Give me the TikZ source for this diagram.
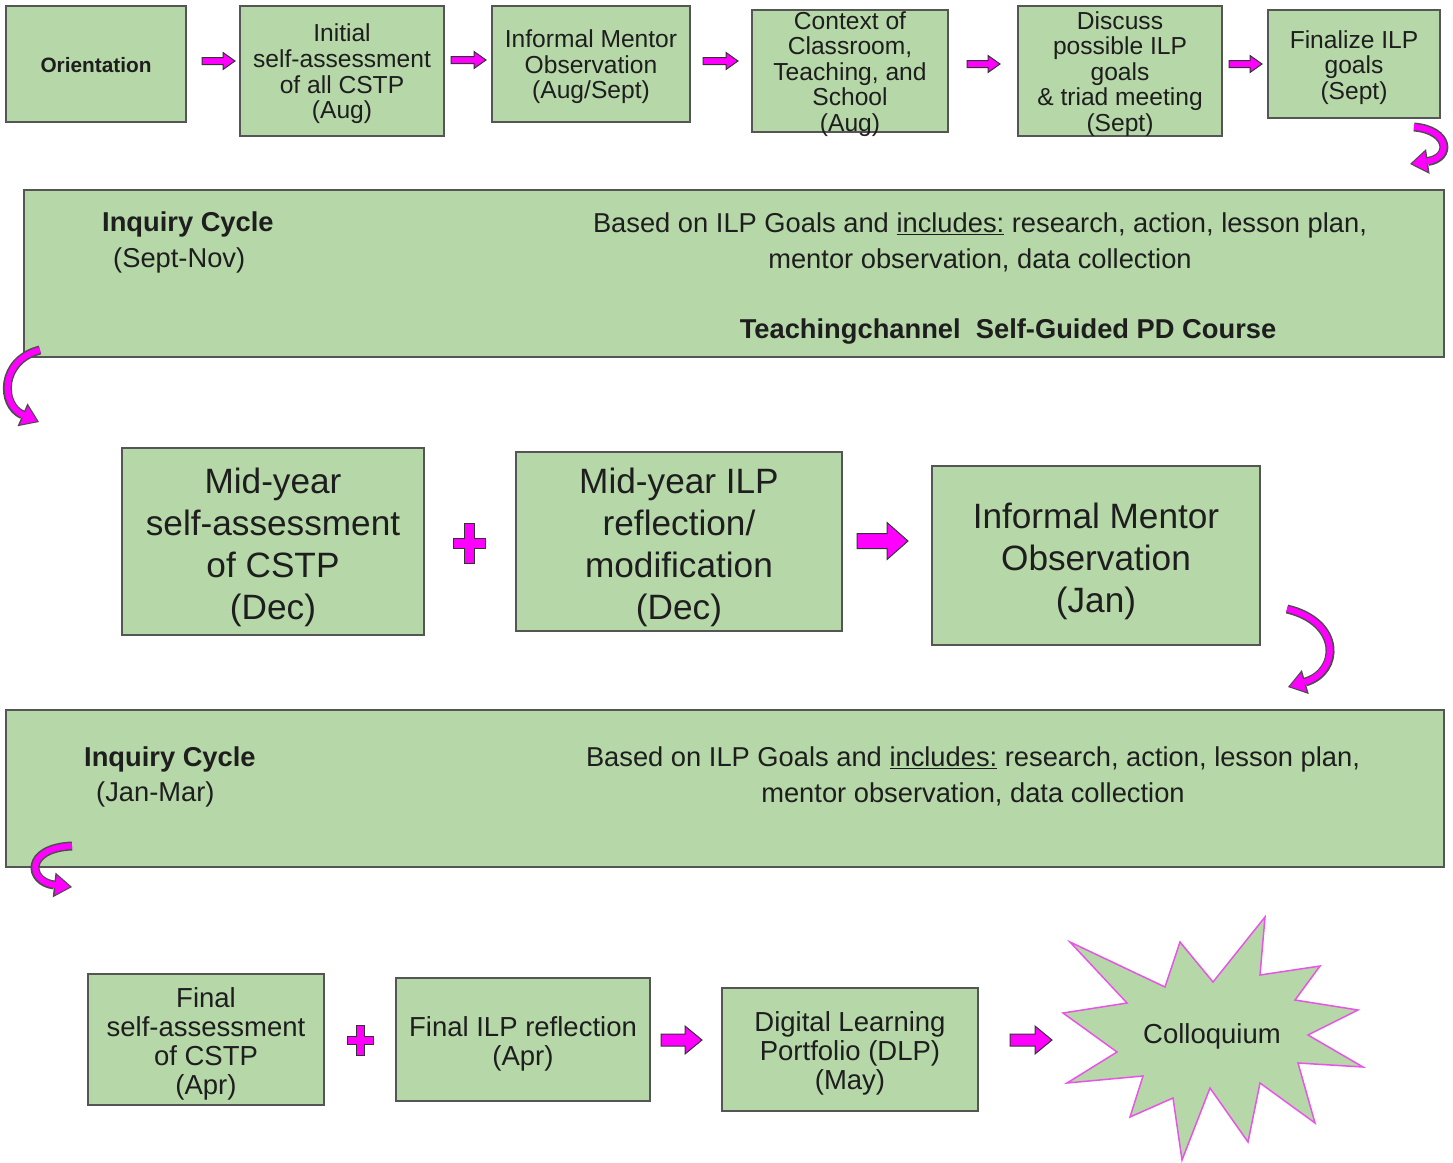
\documentclass[tikz,border=0pt]{standalone}
\usepackage{fontspec}
\setmainfont{Liberation Sans}
\usetikzlibrary{arrows.meta}
\definecolor{boxgreen}{HTML}{B6D7A8}
\definecolor{boxline}{HTML}{555555}
\definecolor{mag}{HTML}{FF00FF}
\definecolor{starline}{HTML}{E655E6}
\definecolor{txt}{HTML}{1E1E1E}
\newcommand\blockarr[6]{% x0 x1 yc shafthalf headhalf headlen
 \draw[barrow] (#1,{#3-#4}) -- ({#2-#6},{#3-#4}) -- ({#2-#6},{#3-#5}) -- (#2,#3) -- ({#2-#6},{#3+#5}) -- ({#2-#6},{#3+#4}) -- (#1,{#3+#4}) -- cycle;}
\newcommand\plussign[5]{% cx cy halfw halfh arm
 \draw[barrow] ({#1-#5},{#2-#4}) -- ({#1+#5},{#2-#4}) -- ({#1+#5},{#2-#5}) -- ({#1+#3},{#2-#5}) -- ({#1+#3},{#2+#5}) -- ({#1+#5},{#2+#5}) -- ({#1+#5},{#2+#4}) -- ({#1-#5},{#2+#4}) -- ({#1-#5},{#2+#5}) -- ({#1-#3},{#2+#5}) -- ({#1-#3},{#2-#5}) -- ({#1-#5},{#2-#5}) -- cycle;}
\tikzset{
 box/.style={draw=boxline, fill=boxgreen, line width=1.5pt, inner sep=0pt},
 boxtxt/.style={align=center, inner sep=0pt, text=txt},
 toptxt/.style={boxtxt, font=\fontsize{24.6}{25.6}\selectfont, yshift=-3pt},
 midtxt/.style={boxtxt, font=\fontsize{35.2}{42}\selectfont, yshift=-5.5pt},
 bottxt/.style={boxtxt, font=\fontsize{27.5}{29}\selectfont, yshift=-4pt},
 inqtxt/.style={font=\fontsize{27.3}{36}\selectfont, text=txt, inner sep=0pt, align=center},
 inqbold/.style={font=\fontsize{27.3}{36}\selectfont\bfseries, text=txt, inner sep=0pt},
 barrow/.style={fill=mag, draw=black!80, line width=1pt, line join=miter},
 curvout/.style={draw=black!70, line width=9pt, -{Triangle[length=18pt,width=25pt,line width=0pt]}},
 curvin/.style={draw=mag, line width=6pt, shorten >=2pt, -{Triangle[length=14.5pt,width=20pt,line width=0pt]}},
}
\begin{document}
\begin{tikzpicture}[x=1pt,y=-1pt]
\useasboundingbox (0,0) rectangle (1453,1162);
% top row
\node[box, minimum width=180, minimum height=116] (orient) at (96,64) {};
\node[boxtxt, font=\fontsize{20.8}{24}\selectfont\bfseries, yshift=-1pt] (orient-t) at (orient.center) {Orientation};
\node[box, minimum width=204, minimum height=130] (init) at (342,71) {};
\node[toptxt] (init-t) at (init.center) {Initial\\self-assessment\\of all CSTP\\(Aug)};
\node[box, minimum width=198, minimum height=116] (infm) at (591,64) {};
\node[toptxt] (infm-t) at (infm.center) {Informal Mentor\\Observation\\(Aug/Sept)};
\node[box, minimum width=196, minimum height=122] (ctx) at (850,71) {};
\node[toptxt] (ctx-t) at (ctx.center) {Context of\\Classroom,\\Teaching, and\\School\\(Aug)};
\node[box, minimum width=204, minimum height=130] (disc) at (1120,71) {};
\node[toptxt] (disc-t) at (disc.center) {Discuss\\possible ILP\\goals\\\& triad meeting\\(Sept)};
\node[box, minimum width=172, minimum height=108] (fin) at (1354,64) {};
\node[toptxt, yshift=-0.5pt] (fin-t) at (fin.center) {Finalize ILP\\goals\\(Sept)};
\blockarr{202}{235}{61}{3.5}{8.5}{12}
\blockarr{451}{486}{60}{3.5}{8.5}{12}
\blockarr{703}{738}{61}{3.5}{8.5}{12}
\blockarr{967}{1000}{64}{3.5}{8.5}{12}
\blockarr{1229}{1262}{64}{3.5}{8.5}{12}
% inquiry 1
\node[box, minimum width=1420, minimum height=167] (inq1) at (734,273.5) {};
\node[inqbold, anchor=west] (inq1t) at (102,224) {Inquiry Cycle};
\node[inqtxt, anchor=west] (inq1d) at (113,260) {(Sept-Nov)};
\node[inqtxt] (inq1r) at (980,242) {Based on ILP Goals and \underline{includes:} research, action, lesson plan,\\mentor observation, data collection};
\node[inqbold] (inq1pd) at (1008,331) {Teachingchannel\ \ Self-Guided PD Course};
% curved arrows
\coordinate (c1a) at (1414,127); \coordinate (c1b) at (1410,164);
\draw[curvout] (c1a) .. controls (1450,130) and (1452,158) .. (c1b);
\draw[curvin] (c1a) .. controls (1450,130) and (1452,158) .. (c1b);
\coordinate (c2a) at (40,350); \coordinate (c2b) at (39,422);
\draw[curvout] (c2a) .. controls (0,360) and (0,405) .. (c2b);
\draw[curvin] (c2a) .. controls (0,360) and (0,405) .. (c2b);
% mid row
\node[box, minimum width=302, minimum height=187] (mya) at (273,541.5) {};
\node[midtxt] (mya-t) at (mya.center) {Mid-year\\self-assessment\\of CSTP\\(Dec)};
\node[box, minimum width=326, minimum height=179] (myb) at (679,541.5) {};
\node[midtxt] (myb-t) at (myb.center) {Mid-year ILP\\reflection/\\modification\\(Dec)};
\node[box, minimum width=328, minimum height=179] (myc) at (1096,555.5) {};
\node[midtxt] (myc-t) at (myc.center) {Informal Mentor\\Observation\\(Jan)};
\plussign{469}{543}{16}{20}{5}
\blockarr{857}{908}{541}{7.5}{18.5}{21}
\coordinate (c3a) at (1287,609); \coordinate (c3b) at (1288,687);
\draw[curvout] (c3a) .. controls (1342,622) and (1340,672) .. (c3b);
\draw[curvin] (c3a) .. controls (1342,622) and (1340,672) .. (c3b);
% inquiry 2
\node[box, minimum width=1438, minimum height=157] (inq2) at (725,788.5) {};
\node[inqbold, anchor=west] (inq2t) at (84,759) {Inquiry Cycle};
\node[inqtxt, anchor=west] (inq2d) at (96,794) {(Jan-Mar)};
\node[inqtxt] (inq2r) at (973,776) {Based on ILP Goals and \underline{includes:} research, action, lesson plan,\\mentor observation, data collection};
\coordinate (c4a) at (72,846); \coordinate (c4b) at (72,887);
\draw[curvout] (c4a) .. controls (24,848) and (28,882) .. (c4b);
\draw[curvin] (c4a) .. controls (24,848) and (28,882) .. (c4b);
% bottom row
\node[box, minimum width=236, minimum height=131] (fsa) at (206,1039.5) {};
\node[bottxt] (fsa-t) at (fsa.center) {Final\\self-assessment\\of CSTP\\(Apr)};
\node[box, minimum width=254, minimum height=123] (filp) at (523,1039.5) {};
\node[bottxt] (filp-t) at (filp.center) {Final ILP reflection\\(Apr)};
\node[box, minimum width=256, minimum height=123] (dlp) at (850,1049.5) {};
\node[bottxt] (dlp-t) at (dlp.center) {Digital Learning\\Portfolio (DLP)\\(May)};
\plussign{360}{1040}{13}{15}{4}
\blockarr{661}{702}{1040}{6}{14}{17}
\blockarr{1010}{1052}{1040}{6}{14}{17}
% star
\draw[fill=boxgreen, draw=starline, line width=1.5pt, line join=miter]
 (1070,942) -- (1165,987) -- (1180,942) -- (1213,982) -- (1265,917) -- (1260,975) -- (1320,966) -- (1295,1000) -- (1358,1010) -- (1308,1035) -- (1363,1067) -- (1298,1063) -- (1315,1123) -- (1260,1083) -- (1248,1142) -- (1210,1088) -- (1182,1160) -- (1173,1098) -- (1130,1117) -- (1143,1076) -- (1067,1083) -- (1117,1052) -- (1063,1013) -- (1127,1003) -- cycle;
\node[boxtxt, font=\fontsize{27.5}{29}\selectfont] (colloq) at (1212,1036) {Colloquium};
\end{tikzpicture}
\end{document}
